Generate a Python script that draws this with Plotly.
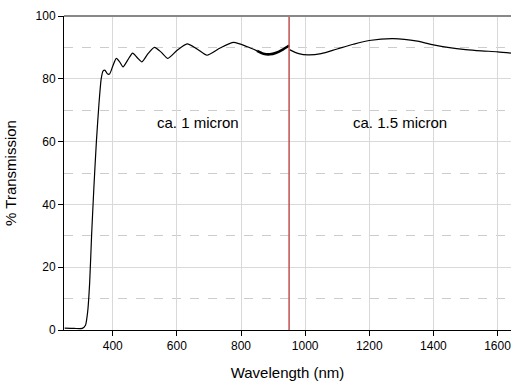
import plotly.graph_objects as go

# Left segment (ca. 1 micron film), wavelength in nm and % transmission
wl_left = [250, 280, 305, 315, 322, 328, 334, 341, 349, 357, 364, 370, 376, 383, 390,
           400, 411, 421, 432, 447, 462, 476, 491, 510, 530, 551, 572, 600, 632,
           663, 694, 735, 777, 820, 850]
tr_left = [0.6, 0.5, 0.5, 1.5, 6, 15, 30, 45, 60, 72, 80, 82.5, 82.7, 81.6, 81.5,
           84, 86.5, 85.5, 83.8, 86, 88.2, 86.8, 85.4, 88, 90.0, 88.5, 86.5, 89, 91.1,
           89.5, 87.5, 89.8, 91.6, 90.2, 88.9]
# Noisy (thick) part before the detector change
wl_noisy = [850, 870, 890, 910, 930, 950]
tr_noisy = [88.9, 88.0, 87.8, 88.3, 89.3, 90.6]
# Right segment (ca. 1.5 micron)
wl_right = [951, 980, 1010, 1050, 1100, 1150, 1200, 1275, 1350, 1400, 1450, 1500,
            1550, 1600, 1642]
tr_right = [89.3, 88.0, 87.6, 88.0, 89.5, 91.0, 92.2, 92.8, 92.0, 90.8, 89.9, 89.3,
            88.9, 88.6, 88.2]

divider_nm = 950
labels = ["ca. 1 micron", "ca. 1.5 micron"]
label_x = [667, 1295]
label_y = [66, 66]

x_ticks = [400, 600, 800, 1000, 1200, 1400, 1600]
y_ticks = [0, 20, 40, 60, 80, 100]

fig = go.Figure()
fig.add_trace(go.Scatter(x=wl_left, y=tr_left, mode="lines",
                         line=dict(color="black", width=1.2, shape="spline", smoothing=0.6)))
fig.add_trace(go.Scatter(x=wl_noisy, y=tr_noisy, mode="lines",
                         line=dict(color="black", width=2.6, shape="spline", smoothing=0.8)))
fig.add_trace(go.Scatter(x=wl_right, y=tr_right, mode="lines",
                         line=dict(color="black", width=1.2, shape="spline", smoothing=0.8)))

fig.add_shape(type="line", xref="x", yref="paper", x0=divider_nm, x1=divider_nm, y0=0, y1=1,
              line=dict(color="#c0504d", width=1.5))
fig.add_shape(type="line", xref="paper", yref="paper", x0=0, x1=1, y0=1, y1=1,
              line=dict(color="#888888", width=2))

for t, xx, yy in zip(labels, label_x, label_y):
    fig.add_annotation(x=xx, y=yy, text=t, showarrow=False,
                       font=dict(size=15, color="black", family="Liberation Sans, Arial"))

fig.update_layout(
    width=511, height=383,
    margin=dict(l=64, r=0, t=16, b=53, autoexpand=False),
    paper_bgcolor="white", plot_bgcolor="white",
    showlegend=False,
    font=dict(family="Liberation Sans, Arial", color="black", size=12),
)
fig.update_xaxes(range=[248, 1642], tickvals=x_ticks, ticks="outside", ticklen=5,
                 tickcolor="black", showline=True, linecolor="black", linewidth=1,
                 showgrid=True, gridcolor="#d9d9d9", gridwidth=1.3, zeroline=False,
                 automargin=False, ticklabeloverflow="allow",
                 title=dict(text="Wavelength (nm)", font=dict(size=15)),
                 tickfont=dict(size=12))
fig.update_yaxes(range=[0, 100], tickvals=y_ticks, ticks="outside", ticklen=5,
                 tickcolor="black", showline=True, linecolor="black", linewidth=1,
                 showgrid=True, gridcolor="#d9d9d9", gridwidth=1.3, zeroline=False,
                 automargin=False,
                 minor=dict(tickvals=[10, 30, 50, 70, 90], showgrid=True,
                            gridcolor="#cccccc", griddash="dash", gridwidth=1, ticks=""),
                 title=dict(text="% Transmission", font=dict(size=15)),
                 tickfont=dict(size=12))

fig.write_html("out.html", config={"displayModeBar": False},
               post_script="document.body.style.margin='0';document.body.style.overflow='hidden';")
